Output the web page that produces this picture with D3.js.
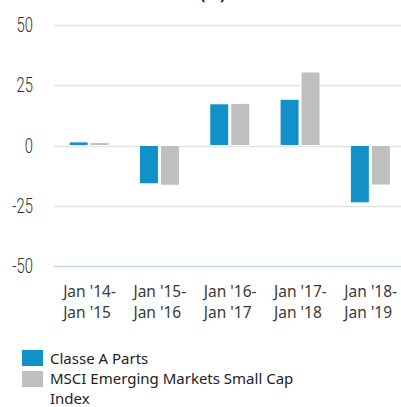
<!DOCTYPE html>
<html>
<head>
<meta charset="utf-8">
<script src="https://cdn.jsdelivr.net/npm/d3@7"></script>
<style>
    body { margin: 0; background: #fff; }
    svg { display: block; }
</style>
</head>
<body>
<div id="chart"></div>
<script>
// Chart data
const periods = [
    ["Jan '14-", "Jan '15"],
    ["Jan '15-", "Jan '16"],
    ["Jan '16-", "Jan '17"],
    ["Jan '17-", "Jan '18"],
    ["Jan '18-", "Jan '19"]
];
const seriesNames = ["Classe A Parts", "MSCI Emerging Markets Small Cap Index"];
const classeA = [1.5, -15.9, 17.3, 19.2, -23.8];
const msciIndex = [1.2, -16.5, 17.5, 30.5, -16.4];
const yTicks = [50, 25, 0, -25, -50];
const colors = ["#1290c8", "#bfbfbf"];

const width = 401, height = 407;

const svg = d3.select('#chart')
    .append('svg')
    .attr('width', width)
    .attr('height', height);

// Title (cut off at the top in the original)
svg.append('text')
    .attr('x', 19)
    .attr('y', 0)
    .style('font-family', '"Noto Sans", sans-serif')
    .style('font-weight', 'bold')
    .style('font-size', '16px')
    .style('fill', '#222')
    .text('Performance annuelle (%)');

const x = d3.scaleBand()
    .domain(d3.range(periods.length))
    .range([54, 405.5]);

const y = d3.scaleLinear()
    .domain([-50, 50])
    .range([266, 25]);

// Gridlines
svg.append('g')
    .selectAll('line')
    .data(yTicks)
    .join('line')
    .attr('x1', 54)
    .attr('x2', width)
    .attr('y1', d => Math.round(y(d)) + 0.5)
    .attr('y2', d => Math.round(y(d)) + 0.5)
    .style('stroke', d => d === -50 ? '#c8dcec' : '#e2e2e2')
    .style('stroke-width', 1.5);

// Y tick labels (condensed look via horizontal scale)
svg.append('g')
    .selectAll('text')
    .data(yTicks)
    .join('text')
    .attr('transform', d => `translate(33,${y(d) + 7}) scale(0.74,1)`)
    .attr('text-anchor', 'end')
    .style('font-family', 'Roboto, sans-serif')
    .style('font-weight', 300)
    .style('font-size', '20px')
    .style('fill', '#333')
    .text(d => d);

// Bars
const barW = 19, gap = 2;
const rows = periods.map((p, i) => [classeA[i], msciIndex[i]]);

const groups = svg.append('g')
    .selectAll('g')
    .data(rows)
    .join('g')
    .attr('transform', (d, i) => `translate(${x(i) + x.bandwidth() / 2},0)`);

groups.selectAll('rect')
    .data(d => d)
    .join('rect')
    .attr('x', (d, j) => j === 0 ? -barW - gap / 2 : gap / 2)
    .attr('width', barW)
    .attr('y', d => y(Math.max(0, d)))
    .attr('height', d => Math.abs(y(d) - y(0)))
    .style('fill', (d, j) => colors[j])
    .style('stroke', '#fff')
    .style('stroke-width', 1);

// X labels (two lines)
const xl = svg.append('g')
    .selectAll('text')
    .data(periods)
    .join('text')
    .attr('x', (d, i) => x(i) + x.bandwidth() / 2 - 26)
    .attr('y', 297)
    .style('font-family', '"Noto Sans", sans-serif')
    .style('font-size', '15.5px')
    .style('fill', '#3a3a3a');

xl.selectAll('tspan')
    .data(d => d)
    .join('tspan')
    .attr('x', function () { return d3.select(this.parentNode).attr('x'); })
    .attr('dy', (d, k) => k === 0 ? 0 : 21)
    .text(d => d);

// Legend
const legend = svg.append('g');
legend.selectAll('rect')
    .data(seriesNames)
    .join('rect')
    .attr('x', 22)
    .attr('y', (d, i) => 350 + i * 21)
    .attr('width', 21)
    .attr('height', 16)
    .style('fill', (d, i) => colors[i]);

const legendLines = [["Classe A Parts"], ["MSCI Emerging Markets Small Cap", "Index"]];
legend.selectAll('text')
    .data(legendLines)
    .join('text')
    .attr('x', 50)
    .attr('y', (d, i) => 364 + i * 20)
    .style('font-family', '"Noto Sans", sans-serif')
    .style('font-size', '15px')
    .style('fill', '#222')
    .selectAll('tspan')
    .data(d => d)
    .join('tspan')
    .attr('x', 50)
    .attr('dy', (d, k) => k === 0 ? 0 : 20)
    .text(d => d);
</script>
</body>
</html>
